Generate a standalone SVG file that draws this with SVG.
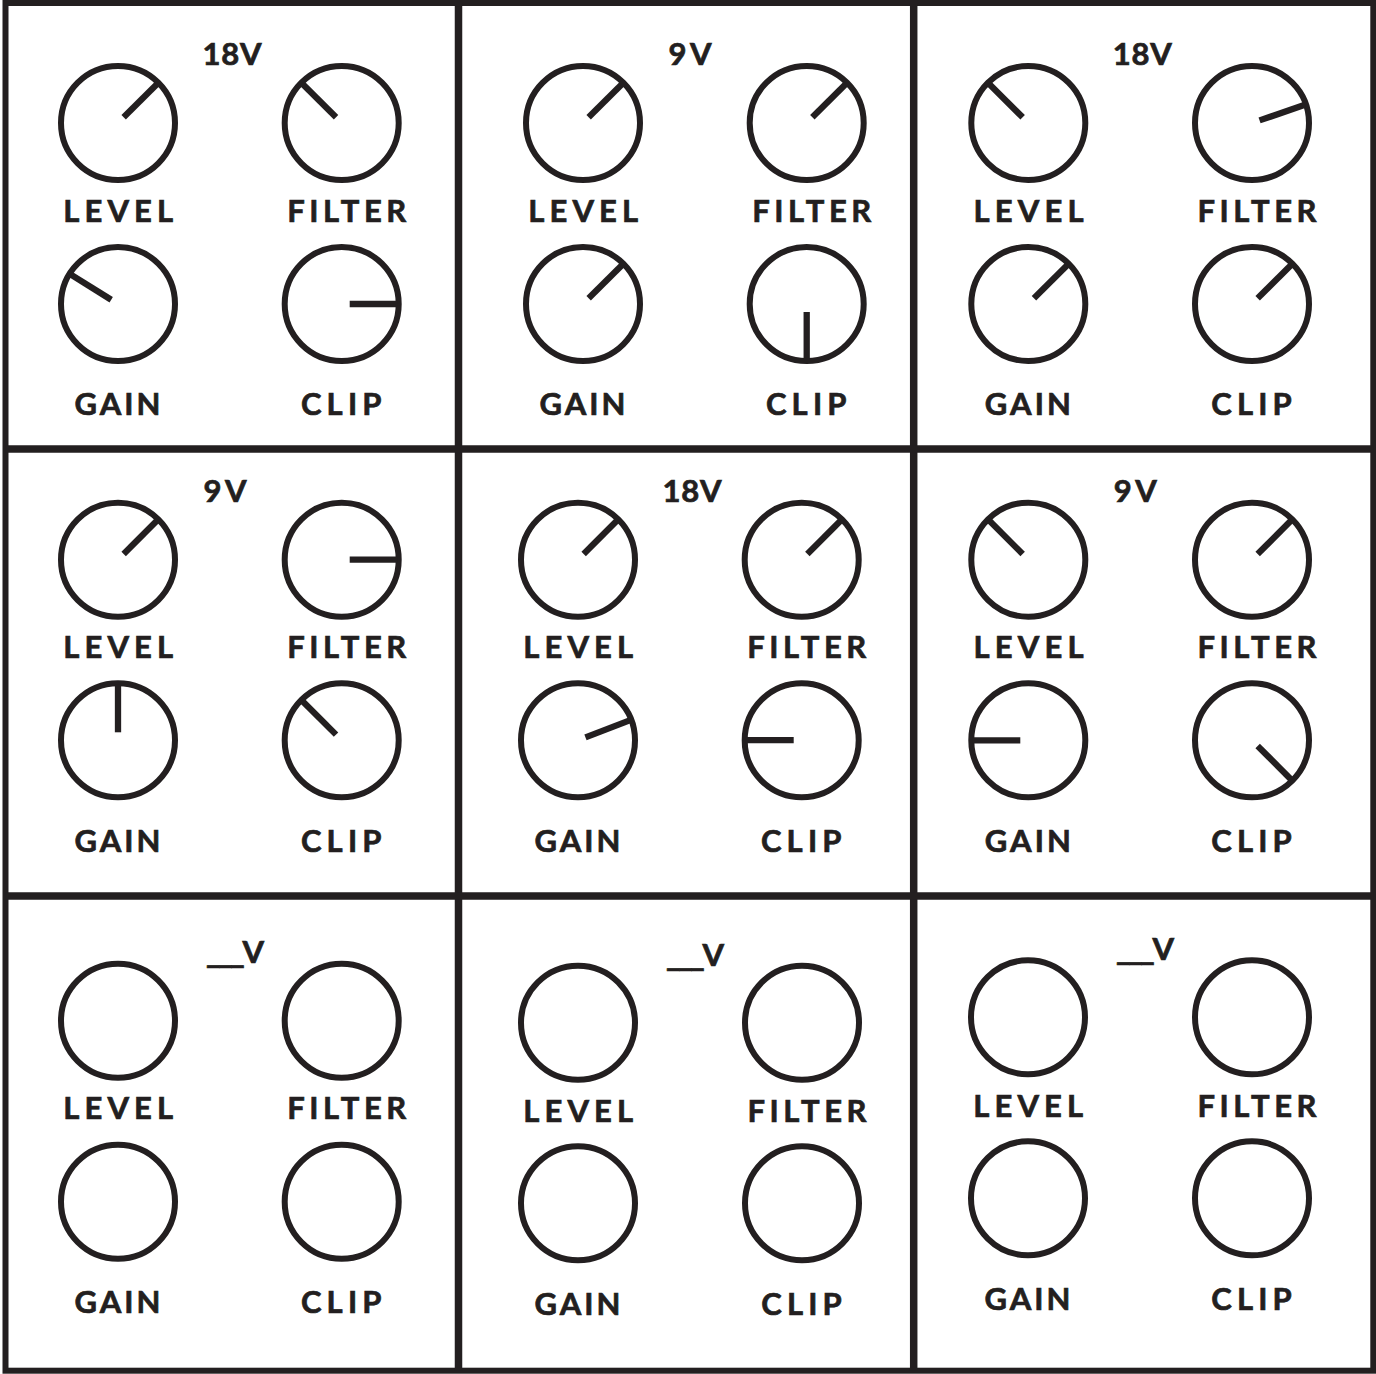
<svg xmlns="http://www.w3.org/2000/svg" width="1376" height="1374" viewBox="0 0 1376 1374">
<style>
.ring{fill:none;stroke:#231f20;stroke-width:6}
.ind{stroke:#231f20;stroke-width:6.3;stroke-linecap:butt}
.frame{fill:none;stroke:#231f20;stroke-width:6}
.div{stroke:#231f20;stroke-width:7.5}
.t{font-family:Lato,"Open Sans","Liberation Sans",sans-serif;font-weight:700;font-size:31px;fill:#231f20;stroke:#231f20;stroke-width:0.7;text-anchor:middle}
.v{font-family:Lato,"Open Sans","Liberation Sans",sans-serif;font-weight:700;font-size:31px;fill:#231f20;stroke:#231f20;stroke-width:0.7;text-anchor:start}
</style>
<defs>
<circle id="ring" class="ring" r="57"/>
<line id="ind" class="ind" x1="0" y1="-8" x2="0" y2="-56"/>
</defs>
<rect width="1376" height="1374" fill="#ffffff"/>

<g id="grid">
<rect class="frame" x="5.5" y="3" width="1367.8" height="1367.7"/>
<line class="div" x1="458.5" y1="3" x2="458.5" y2="1370.7"/>
<line class="div" x1="913.7" y1="3" x2="913.7" y2="1370.7"/>
<line class="div" x1="5.5" y1="449" x2="1373.3" y2="449"/>
<line class="div" x1="5.5" y1="896" x2="1373.3" y2="896"/>
</g>

<g id="panel-1" transform="translate(118,123)">
<text class="v" x="84.5" y="-58" textLength="59">18V</text>
<g id="p1-level"><use href="#ring"/><use href="#ind" transform="rotate(45)"/></g>
<g id="p1-filter" transform="translate(223.7,0)"><use href="#ring"/><use href="#ind" transform="rotate(-45)"/></g>
<g id="p1-gain" transform="translate(0,181)"><use href="#ring"/><use href="#ind" transform="rotate(-58)"/></g>
<g id="p1-clip" transform="translate(223.7,181)"><use href="#ring"/><use href="#ind" transform="rotate(90)"/></g>
<text class="t" x="0.2" y="98.7" textLength="110">LEVEL</text>
<text class="t" x="228.7" y="98.7" textLength="119">FILTER</text>
<text class="t" x="-0.5" y="292" textLength="86">GAIN</text>
<text class="t" x="223.2" y="292" textLength="80.5">CLIP</text>
</g>

<g id="panel-2" transform="translate(583,123)">
<text class="v" x="85.5" y="-58" textLength="43">9V</text>
<g id="p2-level"><use href="#ring"/><use href="#ind" transform="rotate(45)"/></g>
<g id="p2-filter" transform="translate(223.7,0)"><use href="#ring"/><use href="#ind" transform="rotate(45)"/></g>
<g id="p2-gain" transform="translate(0,181)"><use href="#ring"/><use href="#ind" transform="rotate(45)"/></g>
<g id="p2-clip" transform="translate(223.7,181)"><use href="#ring"/><use href="#ind" transform="rotate(180)"/></g>
<text class="t" x="0.2" y="98.7" textLength="110">LEVEL</text>
<text class="t" x="228.7" y="98.7" textLength="119">FILTER</text>
<text class="t" x="-0.5" y="292" textLength="86">GAIN</text>
<text class="t" x="223.2" y="292" textLength="80.5">CLIP</text>
</g>

<g id="panel-3" transform="translate(1028.3,123)">
<text class="v" x="84.5" y="-58" textLength="59">18V</text>
<g id="p3-level"><use href="#ring"/><use href="#ind" transform="rotate(-45)"/></g>
<g id="p3-filter" transform="translate(223.7,0)"><use href="#ring"/><use href="#ind" transform="rotate(71)"/></g>
<g id="p3-gain" transform="translate(0,181)"><use href="#ring"/><use href="#ind" transform="rotate(45)"/></g>
<g id="p3-clip" transform="translate(223.7,181)"><use href="#ring"/><use href="#ind" transform="rotate(45)"/></g>
<text class="t" x="0.2" y="98.7" textLength="110">LEVEL</text>
<text class="t" x="228.7" y="98.7" textLength="119">FILTER</text>
<text class="t" x="-0.5" y="292" textLength="86">GAIN</text>
<text class="t" x="223.2" y="292" textLength="80.5">CLIP</text>
</g>

<g id="panel-4" transform="translate(118,559.7)">
<text class="v" x="85.5" y="-57.5" textLength="43">9V</text>
<g id="p4-level"><use href="#ring"/><use href="#ind" transform="rotate(45)"/></g>
<g id="p4-filter" transform="translate(223.7,0)"><use href="#ring"/><use href="#ind" transform="rotate(90)"/></g>
<g id="p4-gain" transform="translate(0,180.6)"><use href="#ring"/><use href="#ind" transform="rotate(0)"/></g>
<g id="p4-clip" transform="translate(223.7,180.6)"><use href="#ring"/><use href="#ind" transform="rotate(-45)"/></g>
<text class="t" x="0.2" y="98.6" textLength="110">LEVEL</text>
<text class="t" x="228.7" y="98.6" textLength="119">FILTER</text>
<text class="t" x="-0.5" y="292.3" textLength="86">GAIN</text>
<text class="t" x="223.2" y="292.3" textLength="80.5">CLIP</text>
</g>

<g id="panel-5" transform="translate(578,559.7)">
<text class="v" x="84.5" y="-58" textLength="59">18V</text>
<g id="p5-level"><use href="#ring"/><use href="#ind" transform="rotate(45)"/></g>
<g id="p5-filter" transform="translate(223.7,0)"><use href="#ring"/><use href="#ind" transform="rotate(45)"/></g>
<g id="p5-gain" transform="translate(0,180.5)"><use href="#ring"/><use href="#ind" transform="rotate(69)"/></g>
<g id="p5-clip" transform="translate(223.7,180.5)"><use href="#ring"/><use href="#ind" transform="rotate(-90)"/></g>
<text class="t" x="0.2" y="98.6" textLength="110">LEVEL</text>
<text class="t" x="228.7" y="98.6" textLength="119">FILTER</text>
<text class="t" x="-0.5" y="292" textLength="86">GAIN</text>
<text class="t" x="223.2" y="292" textLength="80.5">CLIP</text>
</g>

<g id="panel-6" transform="translate(1028.3,559.7)">
<text class="v" x="85.5" y="-57.5" textLength="43">9V</text>
<g id="p6-level"><use href="#ring"/><use href="#ind" transform="rotate(-45)"/></g>
<g id="p6-filter" transform="translate(223.7,0)"><use href="#ring"/><use href="#ind" transform="rotate(45)"/></g>
<g id="p6-gain" transform="translate(0,180.6)"><use href="#ring"/><use href="#ind" transform="rotate(-90)"/></g>
<g id="p6-clip" transform="translate(223.7,180.6)"><use href="#ring"/><use href="#ind" transform="rotate(135)"/></g>
<text class="t" x="0.2" y="98.6" textLength="110">LEVEL</text>
<text class="t" x="228.7" y="98.6" textLength="119">FILTER</text>
<text class="t" x="-0.5" y="292.3" textLength="86">GAIN</text>
<text class="t" x="223.2" y="292.3" textLength="80.5">CLIP</text>
</g>

<g id="panel-7" transform="translate(118,1020.7)">
<text class="v" x="88" y="-57.4" textLength="58">___V</text>
<g id="p7-level"><use href="#ring"/></g>
<g id="p7-filter" transform="translate(223.7,0)"><use href="#ring"/></g>
<g id="p7-gain" transform="translate(0,181)"><use href="#ring"/></g>
<g id="p7-clip" transform="translate(223.7,181)"><use href="#ring"/></g>
<text class="t" x="0.2" y="98.6" textLength="110">LEVEL</text>
<text class="t" x="228.7" y="98.6" textLength="119">FILTER</text>
<text class="t" x="-0.5" y="292.6" textLength="86">GAIN</text>
<text class="t" x="223.2" y="292.6" textLength="80.5">CLIP</text>
</g>

<g id="panel-8" transform="translate(578,1022.7)">
<text class="v" x="88" y="-56.7" textLength="58">___V</text>
<g id="p8-level"><use href="#ring"/></g>
<g id="p8-filter" transform="translate(224,0)"><use href="#ring"/></g>
<g id="p8-gain" transform="translate(0,180.6)"><use href="#ring"/></g>
<g id="p8-clip" transform="translate(224,180.6)"><use href="#ring"/></g>
<text class="t" x="0.2" y="99" textLength="110">LEVEL</text>
<text class="t" x="229" y="99" textLength="119">FILTER</text>
<text class="t" x="-0.5" y="292.4" textLength="86">GAIN</text>
<text class="t" x="223.5" y="292.4" textLength="80.5">CLIP</text>
</g>

<g id="panel-9" transform="translate(1028,1017.3)">
<text class="v" x="88" y="-57.3" textLength="58">___V</text>
<g id="p9-level"><use href="#ring"/></g>
<g id="p9-filter" transform="translate(224,0)"><use href="#ring"/></g>
<g id="p9-gain" transform="translate(0,181)"><use href="#ring"/></g>
<g id="p9-clip" transform="translate(224,181)"><use href="#ring"/></g>
<text class="t" x="0.2" y="99.4" textLength="110">LEVEL</text>
<text class="t" x="229" y="99.4" textLength="119">FILTER</text>
<text class="t" x="-0.5" y="292.7" textLength="86">GAIN</text>
<text class="t" x="223.5" y="292.7" textLength="80.5">CLIP</text>
</g>
</svg>
